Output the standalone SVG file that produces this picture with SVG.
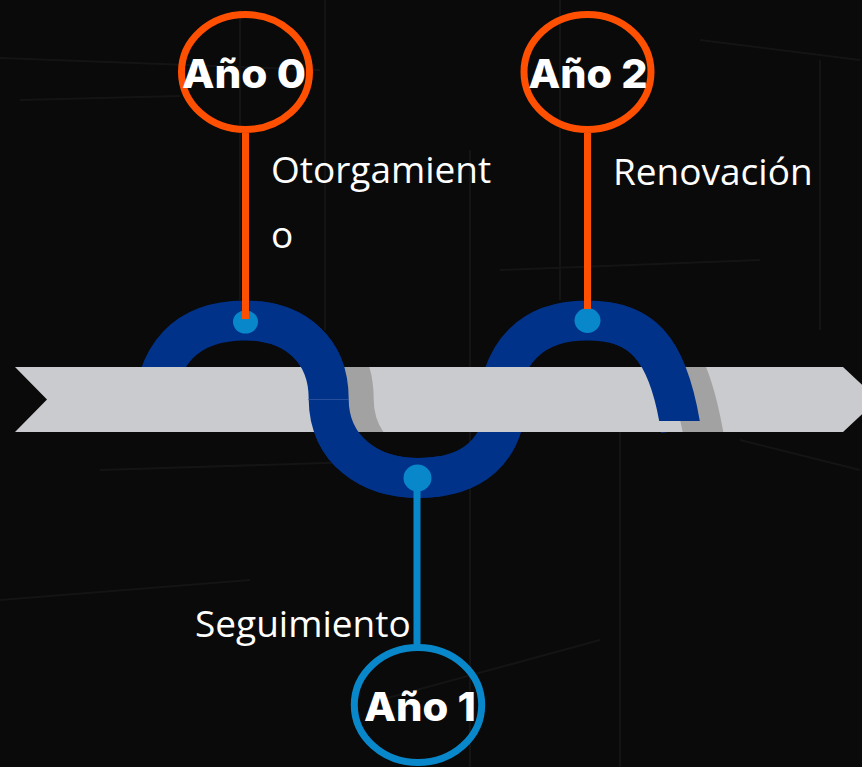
<svg xmlns="http://www.w3.org/2000/svg" width="862" height="767" viewBox="0 0 862 767">
<defs>
<style>
.wave{fill:none;stroke:#00328a;stroke-width:40;}
.shadow{fill:none;stroke:#a2a2a2;stroke-width:40;}
.dot{fill:#0987cb;}
.lbl{font-family:"Open Sans","Liberation Sans",sans-serif;font-size:37px;fill:#ffffff;}
.yr{font-family:Inter,"Liberation Sans",sans-serif;font-weight:800;font-size:40px;fill:#ffffff;text-anchor:middle;}
.ring-o{fill:none;stroke:#ff4f00;stroke-width:7;}
.ring-b{fill:none;stroke:#0987cb;stroke-width:7;}
.stem-o{stroke:#ff4f00;stroke-width:7;}
.stem-b{stroke:#0987cb;stroke-width:7;}
.tex{stroke:#ffffff;stroke-opacity:0.045;stroke-width:2;fill:none;}
</style>
<clipPath id="ribbonClip"><polygon points="15,367 843,367 878,399.5 843,432 15,432 47,399.5"/></clipPath>
<clipPath id="overS"><rect x="260" y="300" width="180" height="220"/></clipPath>
<clipPath id="over2"><rect x="615" y="290" width="150" height="131"/></clipPath>
<clipPath id="over2s"><rect x="615" y="290" width="150" height="160"/></clipPath>
</defs>

<rect x="0" y="0" width="862" height="767" fill="#0a0a0a"/>
<g id="texture">
<path class="tex" d="M0,58 L320,70 M20,100 L180,96 M240,10 L240,300 M325,0 L325,330 M470,150 L470,767 M500,270 L760,260 M560,0 L560,300 M700,40 L860,60 M820,60 L820,330 M0,600 L250,580 M620,430 L620,767 M740,440 L860,470 M100,470 L420,460 M380,700 L600,640"/>
</g>

<g id="wave">
<path class="wave" d="M152,428 C152,350 190,320.5 245,320.5 C295,320.5 328.7,350 328.7,399 C328.7,450 370,478 418,478 C472,478 505,452 507,395"/>
<path class="wave" d="M496,428 C496,345 538,320.5 587,320.5 C640,320.5 668,345 681,430"/>
<polygon id="ribbon" points="15,367 843,367 878,399.5 843,432 15,432 47,399.5" fill="#c9cbce"/>
<g clip-path="url(#ribbonClip)">
<g clip-path="url(#overS)">
<path class="shadow" transform="translate(25,0)" d="M152,428 C152,350 190,320.5 245,320.5 C295,320.5 328.7,350 328.7,399 C328.7,450 370,478 418,478 C472,478 505,452 507,395"/>
</g>
<g clip-path="url(#over2s)">
<path class="shadow" transform="translate(22,0)" d="M496,428 C496,345 538,320.5 587,320.5 C640,320.5 668,345 684,450"/>
</g>
</g>
<g clip-path="url(#overS)">
<path class="wave" d="M152,428 C152,350 190,320.5 245,320.5 C295,320.5 328.7,350 328.7,399 C328.7,450 370,478 418,478 C472,478 505,452 507,395"/>
</g>
<g clip-path="url(#over2)">
<path class="wave" d="M496,428 C496,345 538,320.5 587,320.5 C640,320.5 668,345 681,430"/>
</g>
<line x1="308" y1="399.5" x2="349" y2="399.5" stroke="#3a5ba5" stroke-width="1" opacity="0.7"/>
<ellipse class="dot" cx="245.5" cy="322" rx="12.5" ry="11.5"/>
<ellipse class="dot" cx="587.5" cy="320.5" rx="13" ry="12.5"/>
<ellipse class="dot" cx="417.5" cy="478" rx="14" ry="13.5"/>
</g>

<g id="connectors">
<line class="stem-o" x1="245.5" y1="133" x2="245.5" y2="319"/>
<line class="stem-o" x1="587.5" y1="133" x2="587.5" y2="309"/>
<line class="stem-b" x1="417" y1="480" x2="417" y2="645"/>
</g>

<g id="node-ano0">
<ellipse class="ring-o" cx="245.5" cy="72" rx="64" ry="57.5"/>
<text class="yr" x="244" y="88" textLength="124" lengthAdjust="spacingAndGlyphs">Año 0</text>
</g>
<g id="node-ano2">
<ellipse class="ring-o" cx="587.5" cy="72" rx="63.5" ry="57.5"/>
<text class="yr" x="588" y="88" textLength="119" lengthAdjust="spacingAndGlyphs">Año 2</text>
</g>
<g id="node-ano1">
<ellipse class="ring-b" cx="418" cy="705" rx="63.7" ry="57.5"/>
<text class="yr" x="420" y="721" textLength="112" lengthAdjust="spacingAndGlyphs">Año 1</text>
</g>

<g id="labels">
<text class="lbl" x="271" y="183">Otorgamient</text>
<text class="lbl" x="271" y="248">o</text>
<text class="lbl" x="613" y="185">Renovación</text>
<text class="lbl" x="195" y="637">Seguimiento</text>
</g>
</svg>
